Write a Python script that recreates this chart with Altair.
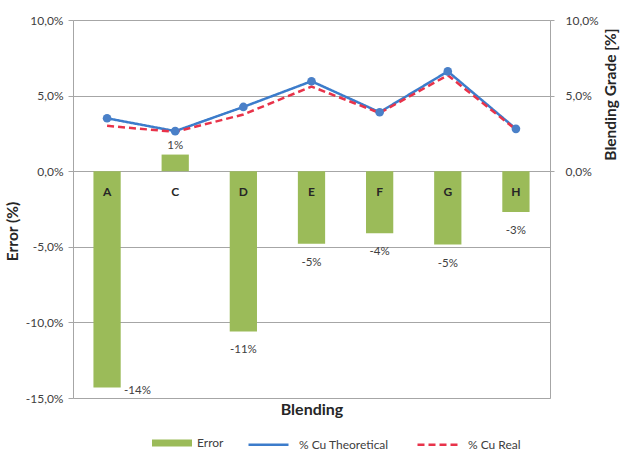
import altair as alt
import pandas as pd

categories = ["A", "C", "D", "E", "F", "G", "H"]
error_pct = [-14.3, 1.1, -10.6, -4.8, -4.1, -4.85, -2.7]
cu_theoretical = [3.5, 2.65, 4.25, 5.95, 3.9, 6.6, 2.8]
cu_real = [3.0, 2.6, 3.75, 5.6, 3.85, 6.35, 2.75]
series_names = ["% Cu Theoretical", "% Cu Real"]
left_ticks = [-15, -10, -5, 0, 5, 10]
right_ticks = [0, 5, 10]

bars_df = pd.DataFrame({"Blending": categories, "Error": error_pct, "series": ["Error"] * len(categories)})
lines_df = pd.DataFrame({
    "Blending": categories * 2,
    "value": cu_theoretical + cu_real,
    "series": [series_names[0]] * len(categories) + [series_names[1]] * len(categories),
})

FONT = "Lato"
GRID = "#a6a6a6"
TXT = "#404040"
label_expr = "replace(replace(format(datum.value, '.1f'), '.', ','), '\u2212', '-') + '%'"

x_enc = alt.X(
    "Blending:N", sort=categories,
    scale=alt.Scale(paddingInner=0.6, paddingOuter=0.3),
    axis=alt.Axis(title="Blending", labels=False, ticks=False, domain=False,
                  titleFontSize=16, titleFontWeight="bold", titleColor="#262626",
                  titlePadding=3, titleFont=FONT),
)
y_scale = alt.Scale(domain=[-15, 10], nice=False, zero=False)

left_axis = alt.Axis(
    values=left_ticks, labelExpr=label_expr, grid=True, gridColor=GRID,
    domainColor=GRID, tickColor=GRID, tickSize=5, labelPadding=5,
    labelFontSize=12, labelColor=TXT, labelFont=FONT,
    title="Error (%)", titleFontSize=15.5, titleFontWeight="bold", titleColor="#262626",
    titleFont=FONT, titleX=-53, titleY=211, titleAngle=270,
)
right_axis = alt.Axis(
    orient="right", values=right_ticks, labelExpr=label_expr, grid=False,
    domainColor=GRID, tickColor=GRID, tickSize=4, labelPadding=11,
    labelFontSize=12, labelColor=TXT, labelFont=FONT,
    title="Blending Grade [%]", titleFontSize=15.5, titleFontWeight="bold", titleColor="#262626",
    titleFont=FONT, titleX=68, titleY=74, titleAngle=270,
)

bars = alt.Chart(bars_df).mark_bar(color="#9BBB59").encode(
    x=x_enc,
    y=alt.Y("Error:Q", scale=y_scale, axis=left_axis),
    color=alt.Color("series:N", scale=alt.Scale(domain=["Error"], range=["#9BBB59"]),
                    legend=alt.Legend(title=None, orient="none", legendX=79, legendY=403,
                                      symbolType="M-1,-0.17L1,-0.17L1,0.17L-1,0.17Z",
                                      symbolSize=1600, symbolStrokeWidth=0,
                                      labelFontSize=12, labelOffset=5, labelColor=TXT,
                                      labelFont=FONT)),
)

base_txt = alt.Chart(bars_df).transform_calculate(
    label="replace(format(datum.Error, '.0f'), '\u2212', '-') + '%'"
)
neg_labels = base_txt.transform_filter(
    "datum.Error < 0 && datum.Blending != 'A'"
).mark_text(baseline="middle", dy=19, fontSize=11.5, color=TXT, font=FONT).encode(
    x=alt.X("Blending:N", sort=categories), y=alt.Y("Error:Q"), text="label:N")
pos_labels = base_txt.transform_filter("datum.Error >= 0").mark_text(
    baseline="middle", dy=-9, fontSize=11.5, color=TXT, font=FONT).encode(
    x=alt.X("Blending:N", sort=categories), y=alt.Y("Error:Q"), text="label:N")
a_label = base_txt.transform_filter("datum.Blending == 'A'").mark_text(
    baseline="middle", align="left", dx=17, dy=4, fontSize=11.5, color=TXT, font=FONT).encode(
    x=alt.X("Blending:N", sort=categories), y=alt.Y("Error:Q"), text="label:N")
cat_labels = alt.Chart(bars_df).mark_text(
    baseline="middle", dy=21, fontSize=12, fontWeight="bold", color="#262626", font=FONT
).encode(x=alt.X("Blending:N", sort=categories), y=alt.datum(0), text="Blending:N")

left_layer = alt.layer(bars, neg_labels, pos_labels, a_label, cat_labels)

line_legend = alt.Legend(title=None, orient="none", legendX=174, legendY=403,
                         direction="horizontal", symbolType="stroke", symbolSize=1600,
                         symbolStrokeWidth=2.5, labelOffset=9, columnPadding=23,
                         labelFontSize=12, labelColor=TXT, labelFont=FONT)

lines = alt.Chart(lines_df).mark_line(strokeWidth=2.5).encode(
    x=alt.X("Blending:N", sort=categories),
    y=alt.Y("value:Q", scale=y_scale, axis=right_axis),
    stroke=alt.Stroke("series:N", sort=series_names,
                      scale=alt.Scale(domain=series_names, range=["#3C7CCB", "#E8334A"]),
                      legend=line_legend),
    strokeDash=alt.StrokeDash("series:N", sort=series_names,
                              scale=alt.Scale(domain=series_names, range=[[1, 0], [7, 4]]),
                              legend=line_legend),
    order=alt.Order("series:N", sort="descending"),
)
points = alt.Chart(lines_df).transform_filter(
    alt.datum.series == series_names[0]
).mark_circle(size=75, opacity=1, color="#4A80C8").encode(
    x=alt.X("Blending:N", sort=categories),
    y=alt.Y("value:Q", scale=y_scale),
)
right_layer = alt.layer(lines, points)

chart = alt.layer(left_layer, right_layer).resolve_scale(
    y="independent"
).properties(
    width=477, height=378,
    autosize=alt.AutoSizeParams(type="none"),
    padding={"left": 73, "top": 20, "right": 74, "bottom": 55},
    background="white",
).configure_view(stroke=None).configure(font=FONT)

chart.save("out.html", embed_options={"renderer": "svg", "actions": False})
